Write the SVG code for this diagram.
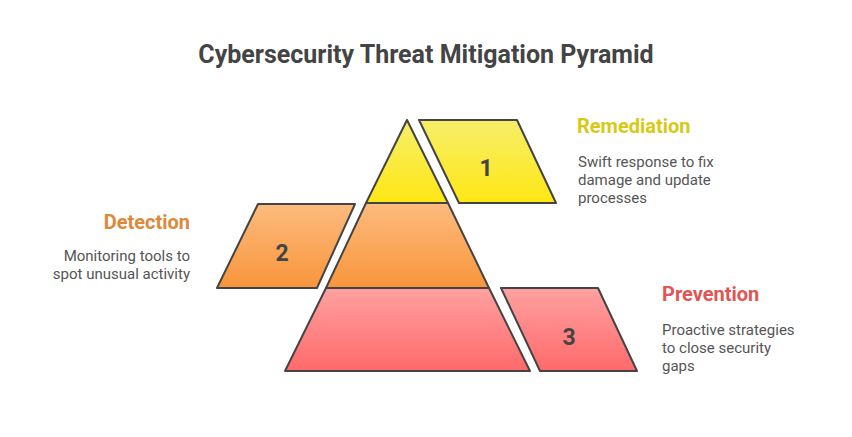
<svg xmlns="http://www.w3.org/2000/svg" width="852" height="437" viewBox="0 0 852 437">
<defs>
<linearGradient id="gy" x1="0" y1="0" x2="0" y2="1"><stop offset="0" stop-color="#f6ee6a"/><stop offset="1" stop-color="#ffe714"/></linearGradient>
<linearGradient id="go" x1="0" y1="0" x2="0" y2="1"><stop offset="0" stop-color="#fdbb7e"/><stop offset="1" stop-color="#f8953b"/></linearGradient>
<linearGradient id="gr" x1="0" y1="0" x2="0" y2="1"><stop offset="0" stop-color="#ffa1a1"/><stop offset="1" stop-color="#ff6a6a"/></linearGradient>
<style>
.s{stroke:#444;stroke-width:2;stroke-linejoin:round}
.num{font-family:Roboto,"Liberation Sans",sans-serif;font-weight:bold;font-size:23px;fill:#444;text-anchor:middle}
.hd{font-family:Roboto,"Liberation Sans",sans-serif;font-weight:bold;font-size:20px}
.ds{font-family:Roboto,"Liberation Sans",sans-serif;font-size:15px;fill:#555}
.title{font-family:Roboto,"Liberation Sans",sans-serif;font-weight:bold;font-size:25px;fill:#444;text-anchor:middle}
</style>
</defs>
<rect width="852" height="437" fill="#fff"/>
<text class="title" x="426" y="63">Cybersecurity Threat Mitigation Pyramid</text>
<g id="pyramid">
<polygon id="tier1" class="s" fill="url(#gy)" points="407,120 448,203 366,203"/>
<polygon id="tier2" class="s" fill="url(#go)" points="366,203 448,203 489,288 326,288"/>
<polygon id="tier3" class="s" fill="url(#gr)" points="326,288 489,288 530,371 285,371"/>
</g>
<g id="remediation">
<polygon class="s" fill="url(#gy)" points="419,120 517,120 556,203 459,203"/>
<text class="num" x="486" y="176">1</text>
<text class="hd" x="577" y="133" fill="#d9c916">Remediation</text>
<text class="ds" x="578" y="167">Swift response to fix</text>
<text class="ds" x="578" y="185">damage and update</text>
<text class="ds" x="578" y="203">processes</text>
</g>
<g id="detection">
<polygon class="s" fill="url(#go)" points="258,204 355,204 317,288 217,288"/>
<text class="num" x="282" y="261">2</text>
<text class="hd" x="190" y="229" fill="#e0883a" text-anchor="end">Detection</text>
<text class="ds" x="190" y="261" text-anchor="end">Monitoring tools to</text>
<text class="ds" x="190" y="279" text-anchor="end">spot unusual activity</text>
</g>
<g id="prevention">
<polygon class="s" fill="url(#gr)" points="501,288 598,288 637,371 540,371"/>
<text class="num" x="569" y="345">3</text>
<text class="hd" x="662" y="301" fill="#e05555">Prevention</text>
<text class="ds" x="662" y="335">Proactive strategies</text>
<text class="ds" x="662" y="353">to close security</text>
<text class="ds" x="662" y="371">gaps</text>
</g>
<g id="connectors"/>
</svg>
